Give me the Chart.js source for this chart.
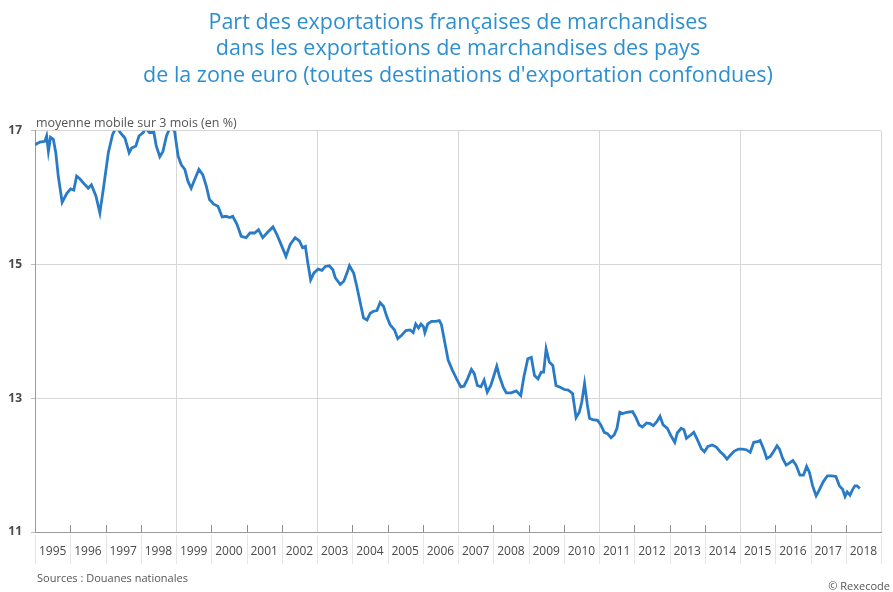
<!DOCTYPE html>
<html lang="fr">
<head>
<meta charset="utf-8">
<title>Part des exportations françaises</title>
<script src="https://cdn.jsdelivr.net/npm/chart.js@4.4.1/dist/chart.umd.min.js"></script>
<style>
  body { margin: 0; background: #fff; }
  #wrap { width: 893px; height: 592px; position: relative; }
</style>
</head>
<body>
<div id="wrap"><canvas id="chart"></canvas></div>
<script>
"use strict"

// title lines and the small texts around the plot
const titleLines = [
    "Part des exportations françaises de marchandises",
    "dans les exportations de marchandises des pays",
    "de la zone euro (toutes destinations d'exportation confondues)"
];
const unitLabel = "moyenne mobile sur 3 mois (en %)";
const sourceLabel = "Sources : Douanes nationales";
const creditLabel = "© Rexecode";

// axis ticks
const yTicks = [11, 13, 15, 17];
const years = [1995, 1996, 1997, 1998, 1999, 2000, 2001, 2002, 2003, 2004, 2005, 2006,
    2007, 2008, 2009, 2010, 2011, 2012, 2013, 2014, 2015, 2016, 2017, 2018];
const gridYears = [1999, 2003, 2007, 2011, 2015, 2019];

// dates as decimal years
const dates = [
    1995.00, 1995.14, 1995.28, 1995.33, 1995.38, 1995.44, 1995.52, 1995.59, 1995.66, 1995.77, 1995.90,
    1996.01, 1996.10, 1996.18, 1996.27, 1996.42, 1996.51, 1996.60, 1996.73, 1996.84, 1996.95,
    1997.08, 1997.20, 1997.31, 1997.42, 1997.55, 1997.67, 1997.74, 1997.86, 1997.95,
    1998.07, 1998.14, 1998.25, 1998.37, 1998.44, 1998.54, 1998.63, 1998.73, 1998.84, 1998.96,
    1999.06, 1999.15, 1999.25, 1999.34, 1999.43, 1999.53, 1999.65, 1999.76, 1999.86, 1999.95,
    2000.07, 2000.19, 2000.31, 2000.42, 2000.52, 2000.61, 2000.73, 2000.85, 2000.99,
    2001.10, 2001.23, 2001.34, 2001.46, 2001.58, 2001.75, 2001.86, 2001.98,
    2002.12, 2002.24, 2002.38, 2002.50, 2002.59, 2002.67, 2002.74, 2002.82, 2002.91,
    2003.03, 2003.14, 2003.24, 2003.35, 2003.45, 2003.52, 2003.66, 2003.76, 2003.85, 2003.92,
    2004.04, 2004.13, 2004.23, 2004.32, 2004.42, 2004.51, 2004.60, 2004.70, 2004.79, 2004.89, 2004.98,
    2005.07, 2005.20, 2005.29, 2005.40, 2005.52, 2005.64, 2005.73, 2005.80, 2005.88, 2005.95,
    2006.02, 2006.06, 2006.14, 2006.25, 2006.37, 2006.47, 2006.53, 2006.63, 2006.72, 2006.84, 2006.96,
    2007.08, 2007.17, 2007.27, 2007.38, 2007.46, 2007.55, 2007.65, 2007.74, 2007.83, 2007.93,
    2008.02, 2008.10, 2008.18, 2008.28, 2008.37, 2008.51, 2008.65, 2008.78, 2008.87, 2008.98,
    2009.08, 2009.17, 2009.27, 2009.36, 2009.43, 2009.50, 2009.59, 2009.69, 2009.78, 2009.91,
    2010.02, 2010.13, 2010.25, 2010.35, 2010.44, 2010.51, 2010.59, 2010.67, 2010.73, 2010.82, 2010.96,
    2011.05, 2011.15, 2011.24, 2011.34, 2011.43, 2011.51, 2011.59, 2011.67, 2011.79, 2011.95,
    2012.04, 2012.14, 2012.23, 2012.35, 2012.45, 2012.54, 2012.64, 2012.73, 2012.82, 2012.94,
    2013.03, 2013.15, 2013.22, 2013.33, 2013.41, 2013.48, 2013.60, 2013.69, 2013.79, 2013.90, 2013.99,
    2014.09, 2014.21, 2014.33, 2014.44, 2014.54, 2014.63, 2014.73, 2014.84, 2014.96,
    2015.06, 2015.18, 2015.29, 2015.39, 2015.50, 2015.57, 2015.67, 2015.76, 2015.86, 2015.95,
    2016.05, 2016.12, 2016.21, 2016.31, 2016.40, 2016.50, 2016.59, 2016.70, 2016.80, 2016.89, 2016.97,
    2017.06, 2017.16, 2017.25, 2017.36, 2017.48, 2017.60, 2017.72, 2017.82, 2017.91, 2017.98,
    2018.04, 2018.12, 2018.19, 2018.26, 2018.32, 2018.40
];

// share in % (3 month moving average)
const values = [
    16.79, 16.83, 16.84, 16.92, 16.69, 16.90, 16.87, 16.67, 16.32, 15.93, 16.06,
    16.13, 16.11, 16.32, 16.28, 16.19, 16.14, 16.19, 16.02, 15.77, 16.17,
    16.67, 16.94, 17.06, 16.97, 16.89, 16.67, 16.74, 16.77, 16.92,
    16.97, 17.04, 16.97, 16.98, 16.77, 16.61, 16.69, 16.92, 17.06, 16.99,
    16.62, 16.49, 16.42, 16.24, 16.14, 16.27, 16.42, 16.34, 16.17, 15.97,
    15.90, 15.87, 15.71, 15.72, 15.70, 15.72, 15.60, 15.42, 15.40,
    15.47, 15.47, 15.52, 15.40, 15.47, 15.56, 15.45, 15.30,
    15.12, 15.30, 15.40, 15.35, 15.25, 15.27, 15.02, 14.77, 14.87,
    14.93, 14.91, 14.97, 14.98, 14.92, 14.80, 14.70, 14.75, 14.87, 14.98,
    14.87, 14.67, 14.42, 14.20, 14.17, 14.27, 14.30, 14.31, 14.43, 14.37, 14.22,
    14.10, 14.02, 13.89, 13.94, 14.01, 14.02, 13.98, 14.11, 14.05, 14.11,
    14.07, 13.98, 14.11, 14.15, 14.15, 14.16, 14.10, 13.82, 13.57, 13.42, 13.29,
    13.17, 13.18, 13.29, 13.43, 13.37, 13.19, 13.17, 13.27, 13.09, 13.19,
    13.34, 13.48, 13.32, 13.17, 13.08, 13.08, 13.11, 13.04, 13.32, 13.59,
    13.61, 13.34, 13.29, 13.39, 13.39, 13.74, 13.54, 13.49, 13.19, 13.16,
    13.13, 13.12, 13.07, 12.71, 12.79, 12.94, 13.22, 12.90, 12.70, 12.68, 12.67,
    12.60, 12.49, 12.47, 12.41, 12.45, 12.55, 12.79, 12.77, 12.79, 12.80,
    12.72, 12.60, 12.57, 12.63, 12.62, 12.59, 12.65, 12.73, 12.60, 12.55,
    12.45, 12.34, 12.48, 12.55, 12.53, 12.40, 12.45, 12.49, 12.38, 12.25, 12.20,
    12.28, 12.30, 12.27, 12.20, 12.15, 12.09, 12.15, 12.21, 12.24,
    12.24, 12.23, 12.19, 12.34, 12.35, 12.37, 12.24, 12.10, 12.13, 12.20,
    12.29, 12.24, 12.10, 12.00, 12.03, 12.07, 12.00, 11.85, 11.85, 11.98, 11.89,
    11.69, 11.54, 11.63, 11.75, 11.84, 11.84, 11.83, 11.69, 11.64, 11.53,
    11.60, 11.55, 11.63, 11.69, 11.69, 11.65
];

const points = [];
for (let i = 0; i < dates.length; i++) {
    points.push({ x: dates[i], y: values[i] });
}

const fontFamily = "'Open Sans', 'DejaVu Sans', sans-serif";

// texts and small year marks that Chart.js has no option for
const extras = {
    id: "extras",
    afterDraw(chart) {
        const ctx = chart.ctx;
        const area = chart.chartArea;
        const xs = chart.scales.x;
        ctx.save();

        // short marks above the axis, faint separators below it
        for (let y = years[0]; y <= years[years.length - 1] + 1; y++) {
            const px = Math.round(xs.getPixelForValue(y)) + 0.5;
            if (y > years[0] && !gridYears.includes(y)) {
                ctx.strokeStyle = "#8c8c8c";
                ctx.lineWidth = 1;
                ctx.beginPath();
                ctx.moveTo(px, area.bottom - 7);
                ctx.lineTo(px, area.bottom);
                ctx.stroke();
            }
            ctx.strokeStyle = "#e6e6e6";
            ctx.beginPath();
            ctx.moveTo(px, area.bottom + 3);
            ctx.lineTo(px, area.bottom + 32);
            ctx.stroke();
        }

        ctx.fillStyle = "#555";
        ctx.textBaseline = "middle";
        ctx.font = "12.5px " + fontFamily;
        ctx.textAlign = "left";
        ctx.fillText(unitLabel, area.left + 1, area.top - 7);

        ctx.font = "11px " + fontFamily;
        ctx.fillText(sourceLabel, 37, 579);
        ctx.textAlign = "right";
        ctx.fillText(creditLabel, 890, 587);
        ctx.restore();
    }
};

const config = {
    type: "line",
    data: {
        datasets: [
            {
                label: "Part de la France",
                data: points,
                borderColor: "#2a7bc6",
                borderWidth: 2.8,
                pointRadius: 0,
                tension: 0,
                fill: false,
            },
        ],
    },
    options: {
        responsive: true,
        maintainAspectRatio: false,
        animation: false,
        layout: { padding: { top: 0, right: 9, bottom: 0, left: 0 } },
        plugins: {
            legend: { display: false },
            tooltip: { enabled: false },
            title: {
                display: true,
                text: titleLines,
                fullSize: false,
                color: "#2d8fcf",
                font: { family: fontFamily, size: 21.5, weight: "normal", lineHeight: 1.25 },
                padding: { top: 9, bottom: 41 },
            },
        },
        scales: {
            x: {
                type: "linear",
                min: 1995,
                max: 2019,
                afterBuildTicks: (scale) => {
                    scale.ticks = years.concat([2019]).map(v => ({ value: v }));
                },
                afterFit: (scale) => { scale.height = 60; },
                border: { display: true, color: "#9a9a9a", width: 1 },
                grid: {
                    drawTicks: false,
                    color: (c) => gridYears.includes(c.tick && c.tick.value) ? "#d6d6d6" : "rgba(0,0,0,0)",
                },
                ticks: {
                    autoSkip: false,
                    maxRotation: 0,
                    padding: 12,
                    labelOffset: 17.7,
                    color: "#4a4a4a",
                    font: { family: fontFamily, size: 12 },
                    callback: (v) => years.includes(v) ? String(v) : "",
                },
            },
            y: {
                min: 11,
                max: 17,
                afterBuildTicks: (scale) => {
                    scale.ticks = yTicks.map(v => ({ value: v }));
                },
                afterFit: (scale) => { scale.width = 35; },
                border: { display: true, color: "#9a9a9a", width: 1 },
                grid: {
                    color: (c) => c.tick && c.tick.value === yTicks[0] ? "#9a9a9a" : "#d6d6d6",
                    tickColor: "#bdbdbd",
                    tickLength: 4,
                },
                ticks: {
                    padding: 9,
                    color: "#4a4a4a",
                    font: { family: fontFamily, size: 12, weight: "bold" },
                },
            },
        },
    },
    plugins: [extras],
};

const goatChart = document.getElementById("chart");
const myChart = new Chart(goatChart, config);
</script>
</body>
</html>
